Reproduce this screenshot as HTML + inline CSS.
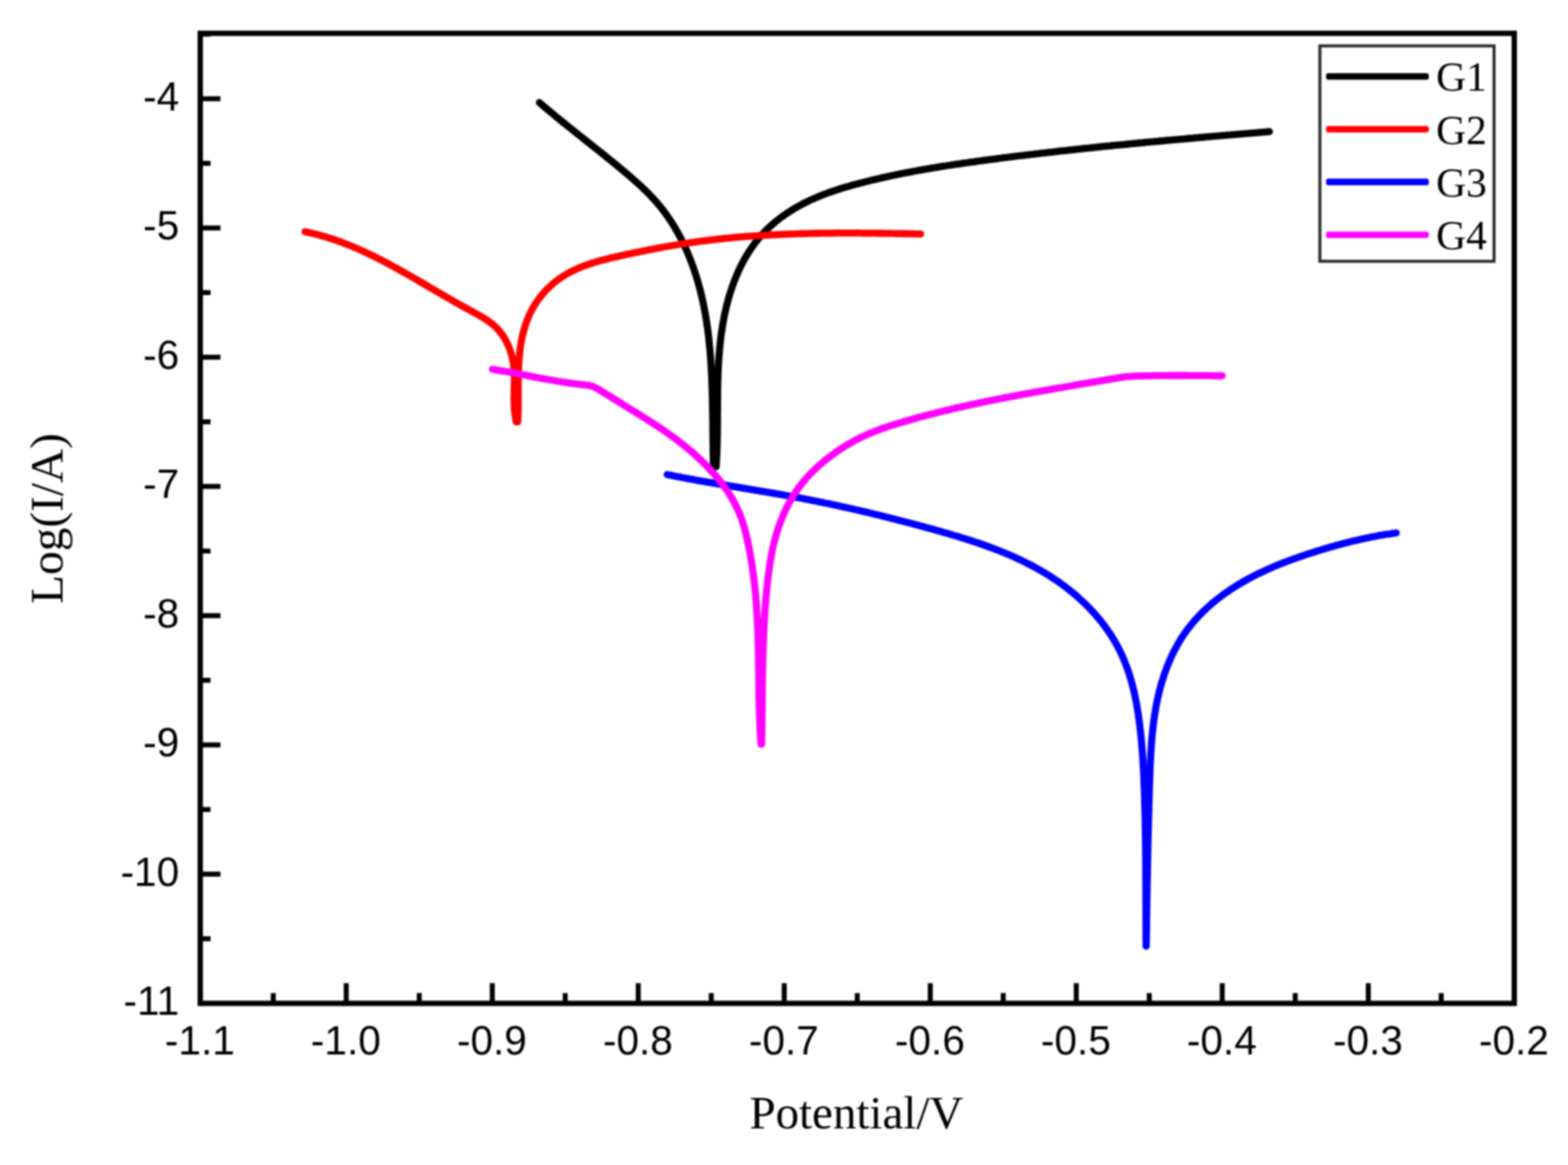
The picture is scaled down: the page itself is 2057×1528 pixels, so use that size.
<!DOCTYPE html>
<html lang="en"><head><meta charset="utf-8"><title>Tafel polarization curves</title>
<style>html,body{margin:0;padding:0;background:#fff;}body{width:2057px;height:1528px;overflow:hidden;}svg{display:block;filter:blur(1px);}.tk{font-family:"Liberation Sans",sans-serif;font-size:53.2px;fill:#000;}.ti{font-family:"Liberation Serif",serif;fill:#000;}</style></head><body>
<svg width="2057" height="1528" viewBox="0 0 2057 1528">
<rect width="2057" height="1528" fill="#fff"/>
<g fill="none" stroke-linejoin="round">
<path d="M707.6 134.5 L709.9 136.5 L712.2 138.4 L714.5 140.4 L716.8 142.3 L719.1 144.3 L721.4 146.2 L723.7 148.1 L726.0 150.0 L728.3 152.0 L730.6 153.9 L733.0 155.8 L735.3 157.7 L737.6 159.6 L740.0 161.5 L742.3 163.4 L744.6 165.2 L747.0 167.1 L749.3 169.0 L751.7 170.9 L754.0 172.8 L756.4 174.6 L758.7 176.5 L761.1 178.4 L763.5 180.2 L765.8 182.1 L768.2 184.0 L770.5 185.9 L772.9 187.7 L775.2 189.6 L777.6 191.5 L779.9 193.3 L782.3 195.2 L784.7 197.1 L787.0 199.0 L789.4 200.8 L791.7 202.7 L794.0 204.6 L796.4 206.5 L798.7 208.4 L801.1 210.3 L803.4 212.2 L805.7 214.1 L808.1 216.0 L810.4 217.9 L812.7 219.8 L815.0 221.7 L817.3 223.7 L819.6 225.6 L821.9 227.5 L824.2 229.5 L826.5 231.4 L828.8 233.4 L831.0 235.4 L833.3 237.4 L835.5 239.4 L837.8 241.4 L840.0 243.5 L842.2 245.5 L844.4 247.6 L846.5 249.7 L848.7 251.8 L850.8 253.9 L852.9 256.1 L855.0 258.3 L857.0 260.5 L859.0 262.7 L861.0 264.9 L863.0 267.2 L864.9 269.5 L866.8 271.9 L868.7 274.2 L870.5 276.6 L872.3 279.0 L874.1 281.4 L875.8 283.9 L877.5 286.4 L879.2 288.9 L880.9 291.4 L882.5 293.9 L884.1 296.5 L885.6 299.0 L887.1 301.6 L888.6 304.3 L890.1 306.9 L891.5 309.5 L892.9 312.2 L894.3 314.9 L895.6 317.6 L896.9 320.3 L898.2 323.0 L899.5 325.7 L900.7 328.5 L901.9 331.2 L903.1 334.0 L904.2 336.8 L905.4 339.6 L906.4 342.4 L907.5 345.2 L908.5 348.0 L909.6 350.8 L910.5 353.7 L911.5 356.5 L912.4 359.4 L913.4 362.3 L914.2 365.1 L915.1 368.0 L915.9 370.9 L916.7 373.8 L917.5 376.7 L918.3 379.6 L919.0 382.5 L919.8 385.4 L920.5 388.4 L921.1 391.3 L921.8 394.2 L922.4 397.2 L923.0 400.1 L923.6 403.1 L924.2 406.0 L924.7 409.0 L925.3 411.9 L925.8 414.9 L926.3 417.9 L926.7 420.8 L927.2 423.8 L927.6 426.8 L928.1 429.8 L928.5 432.8 L928.9 435.7 L929.2 438.7 L929.6 441.7 L929.9 444.7 L930.2 447.7 L930.5 450.7 L930.8 453.7 L931.1 456.7 L931.4 459.7 L931.6 462.7 L931.9 465.7 L932.1 468.7 L932.3 471.7 L932.5 474.7 L932.7 477.7 L932.9 480.7 L933.1 483.7 L933.2 486.7 L933.4 489.7 L933.5 492.7 L933.7 495.7 L933.8 498.7 L933.9 501.7 L934.0 504.7 L934.1 507.7 L934.2 510.7 L934.3 513.7 L934.4 516.7 L934.5 519.8 L934.6 522.8 L934.6 525.8 L934.7 528.8 L934.7 531.8 L934.8 534.8 L934.8 537.8 L934.9 540.8 L934.9 543.8 L935.0 546.8 L935.0 549.8 L935.1 552.8 L935.1 555.8 L935.1 558.9 L935.2 561.9 L935.2 564.9 L935.2 567.9 L935.3 570.9 L935.3 573.9 L935.3 576.9 L935.4 579.9 L935.4 582.9 L935.5 585.9 L935.5 588.9 L935.6 591.9 L935.6 595.0 L935.7 598.0 L935.7 601.0 L935.8 604.0 L935.9 607.0 L936.0 610.0 L936.0 612.0 L939.5 612.0 L939.7 609.0 L939.8 606.0 L940.0 603.0 L940.2 600.0 L940.3 597.0 L940.4 594.0 L940.5 591.0 L940.6 588.0 L940.7 585.0 L940.8 582.0 L940.9 579.0 L940.9 576.0 L941.0 573.0 L941.0 570.0 L941.1 567.0 L941.1 564.0 L941.1 561.0 L941.2 558.0 L941.2 555.0 L941.2 551.9 L941.2 548.9 L941.2 545.9 L941.2 542.9 L941.3 539.9 L941.3 536.9 L941.3 533.9 L941.3 530.9 L941.3 527.9 L941.3 524.9 L941.4 521.9 L941.4 518.9 L941.4 515.9 L941.5 512.9 L941.5 509.9 L941.6 506.9 L941.6 503.9 L941.7 500.9 L941.8 497.9 L941.9 494.9 L942.0 491.9 L942.1 488.9 L942.2 485.9 L942.3 482.9 L942.5 479.9 L942.6 476.9 L942.8 473.9 L943.0 470.9 L943.2 467.9 L943.4 464.9 L943.7 461.9 L943.9 458.9 L944.2 455.9 L944.5 452.9 L944.8 449.9 L945.1 446.9 L945.5 443.9 L945.8 441.0 L946.2 438.0 L946.7 435.0 L947.1 432.0 L947.6 429.1 L948.0 426.1 L948.6 423.1 L949.1 420.2 L949.6 417.2 L950.2 414.3 L950.8 411.4 L951.5 408.4 L952.2 405.5 L952.8 402.6 L953.6 399.7 L954.3 396.7 L955.1 393.8 L955.9 390.9 L956.7 388.1 L957.6 385.2 L958.5 382.3 L959.5 379.5 L960.4 376.6 L961.4 373.8 L962.4 371.0 L963.5 368.2 L964.6 365.4 L965.7 362.6 L966.9 359.8 L968.1 357.1 L969.3 354.3 L970.6 351.6 L971.9 348.9 L973.3 346.2 L974.7 343.6 L976.1 340.9 L977.6 338.3 L979.1 335.7 L980.7 333.1 L982.2 330.6 L983.9 328.1 L985.6 325.6 L987.3 323.1 L989.0 320.7 L990.8 318.3 L992.7 315.9 L994.6 313.6 L996.5 311.3 L998.5 309.0 L1000.5 306.8 L1002.5 304.6 L1004.6 302.5 L1006.8 300.3 L1009.0 298.3 L1011.2 296.2 L1013.4 294.2 L1015.7 292.3 L1018.0 290.4 L1020.3 288.5 L1022.7 286.6 L1025.1 284.8 L1027.5 283.1 L1030.0 281.3 L1032.5 279.7 L1035.0 278.0 L1037.5 276.4 L1040.1 274.8 L1042.6 273.3 L1045.2 271.7 L1047.9 270.3 L1050.5 268.8 L1053.1 267.4 L1055.8 266.0 L1058.5 264.7 L1061.2 263.4 L1063.9 262.1 L1066.7 260.9 L1069.4 259.7 L1072.2 258.5 L1074.9 257.4 L1077.7 256.2 L1080.5 255.1 L1083.3 254.1 L1086.2 253.0 L1089.0 252.0 L1091.8 251.0 L1094.7 250.1 L1097.5 249.1 L1100.4 248.2 L1103.2 247.3 L1106.1 246.4 L1109.0 245.5 L1111.9 244.7 L1114.8 243.9 L1117.6 243.0 L1120.5 242.2 L1123.4 241.5 L1126.3 240.7 L1129.3 239.9 L1132.2 239.2 L1135.1 238.4 L1138.0 237.7 L1140.9 237.0 L1143.8 236.3 L1146.8 235.6 L1149.7 234.9 L1152.6 234.2 L1155.5 233.6 L1158.5 232.9 L1161.4 232.2 L1164.3 231.6 L1167.3 231.0 L1170.2 230.3 L1173.1 229.7 L1176.1 229.1 L1179.0 228.5 L1182.0 227.9 L1184.9 227.3 L1187.9 226.7 L1190.8 226.2 L1193.8 225.6 L1196.7 225.1 L1199.7 224.5 L1202.6 224.0 L1205.6 223.4 L1208.5 222.9 L1211.5 222.4 L1214.5 221.9 L1217.4 221.3 L1220.4 220.8 L1223.3 220.3 L1226.3 219.9 L1229.3 219.4 L1232.2 218.9 L1235.2 218.4 L1238.2 217.9 L1241.1 217.5 L1244.1 217.0 L1247.1 216.6 L1250.1 216.1 L1253.0 215.7 L1256.0 215.2 L1259.0 214.8 L1261.9 214.4 L1264.9 213.9 L1267.9 213.5 L1270.9 213.1 L1273.8 212.7 L1276.8 212.3 L1279.8 211.8 L1282.8 211.4 L1285.7 211.0 L1288.7 210.6 L1291.7 210.2 L1294.7 209.8 L1297.7 209.4 L1300.6 209.0 L1303.6 208.7 L1306.6 208.3 L1309.6 207.9 L1312.5 207.5 L1315.5 207.1 L1318.5 206.7 L1321.5 206.4 L1324.5 206.0 L1327.5 205.6 L1330.4 205.2 L1333.4 204.9 L1336.4 204.5 L1339.4 204.1 L1342.4 203.8 L1345.3 203.4 L1348.3 203.1 L1351.3 202.7 L1354.3 202.4 L1357.3 202.0 L1360.3 201.7 L1363.2 201.3 L1366.2 201.0 L1369.2 200.6 L1372.2 200.3 L1375.2 199.9 L1378.2 199.6 L1381.2 199.3 L1384.1 198.9 L1387.1 198.6 L1390.1 198.2 L1393.1 197.9 L1396.1 197.6 L1399.1 197.3 L1402.1 196.9 L1405.0 196.6 L1408.0 196.3 L1411.0 196.0 L1414.0 195.6 L1417.0 195.3 L1420.0 195.0 L1423.0 194.7 L1426.0 194.4 L1428.9 194.1 L1431.9 193.8 L1434.9 193.5 L1437.9 193.1 L1440.9 192.8 L1443.9 192.5 L1446.9 192.2 L1449.9 191.9 L1452.8 191.6 L1455.8 191.3 L1458.8 191.0 L1461.8 190.7 L1464.8 190.4 L1467.8 190.1 L1470.8 189.8 L1473.8 189.6 L1476.8 189.3 L1479.8 189.0 L1482.7 188.7 L1485.7 188.4 L1488.7 188.1 L1491.7 187.8 L1494.7 187.5 L1497.7 187.3 L1500.7 187.0 L1503.7 186.7 L1506.7 186.4 L1509.7 186.1 L1512.7 185.9 L1515.6 185.6 L1518.6 185.3 L1521.6 185.0 L1524.6 184.8 L1527.6 184.5 L1530.6 184.2 L1533.6 183.9 L1536.6 183.7 L1539.6 183.4 L1542.6 183.1 L1545.6 182.9 L1548.6 182.6 L1551.6 182.3 L1554.5 182.1 L1557.5 181.8 L1560.5 181.5 L1563.5 181.3 L1566.5 181.0 L1569.5 180.7 L1572.5 180.5 L1575.5 180.2 L1578.5 180.0 L1581.5 179.7 L1584.5 179.4 L1587.5 179.2 L1590.5 178.9 L1593.5 178.7 L1596.4 178.4 L1599.4 178.2 L1602.4 177.9 L1605.4 177.6 L1608.4 177.4 L1611.4 177.1 L1614.4 176.9 L1617.4 176.6 L1620.4 176.4 L1623.4 176.1 L1626.4 175.9 L1629.4 175.6 L1632.4 175.4 L1635.4 175.1 L1638.4 174.9 L1641.3 174.6 L1644.3 174.4 L1647.3 174.1 L1650.3 173.9 L1653.3 173.6 L1656.3 173.4 L1659.3 173.1 L1662.3 172.9 L1665.3 172.6" stroke="#000" stroke-width="9.3" stroke-linecap="round"/>
<path d="M400.2 303.9 L403.1 304.5 L406.1 305.2 L409.0 305.9 L411.9 306.6 L414.9 307.3 L417.8 308.1 L420.7 308.9 L423.6 309.7 L426.5 310.5 L429.3 311.4 L432.2 312.3 L435.1 313.2 L437.9 314.2 L440.8 315.1 L443.6 316.1 L446.4 317.2 L449.3 318.2 L452.1 319.3 L454.9 320.4 L457.7 321.5 L460.5 322.6 L463.2 323.8 L466.0 324.9 L468.8 326.1 L471.5 327.3 L474.3 328.6 L477.0 329.8 L479.7 331.1 L482.5 332.4 L485.2 333.7 L487.9 335.0 L490.6 336.3 L493.3 337.6 L496.0 339.0 L498.7 340.4 L501.3 341.7 L504.0 343.1 L506.7 344.5 L509.3 345.9 L512.0 347.4 L514.6 348.8 L517.3 350.2 L519.9 351.7 L522.5 353.1 L525.2 354.6 L527.8 356.1 L530.4 357.6 L533.0 359.0 L535.6 360.5 L538.3 362.0 L540.9 363.5 L543.5 365.0 L546.1 366.5 L548.7 368.1 L551.3 369.6 L553.9 371.1 L556.5 372.6 L559.1 374.1 L561.7 375.6 L564.3 377.2 L566.9 378.7 L569.5 380.2 L572.1 381.7 L574.7 383.2 L577.3 384.7 L579.9 386.3 L582.5 387.8 L585.1 389.3 L587.7 390.8 L590.3 392.3 L592.9 393.8 L595.5 395.2 L598.1 396.7 L600.8 398.2 L603.4 399.7 L606.0 401.2 L608.6 402.6 L611.3 404.1 L613.9 405.5 L616.6 407.0 L619.2 408.4 L621.8 409.9 L624.5 411.3 L627.1 412.8 L629.7 414.3 L632.3 415.8 L634.9 417.4 L637.4 419.0 L639.9 420.6 L642.4 422.4 L644.8 424.2 L647.1 426.1 L649.3 428.1 L651.5 430.2 L653.5 432.4 L655.5 434.6 L657.4 437.0 L659.1 439.4 L660.8 441.9 L662.4 444.5 L663.8 447.1 L665.2 449.8 L666.5 452.5 L667.7 455.3 L668.7 458.1 L669.7 460.9 L670.6 463.8 L671.4 466.7 L672.1 469.6 L672.7 472.5 L673.3 475.5 L673.7 478.5 L674.1 481.5 L674.3 484.4 L674.6 487.4 L674.7 490.5 L674.8 493.5 L674.8 496.5 L674.8 499.5 L674.8 502.5 L674.7 505.5 L674.7 508.5 L674.6 511.5 L674.5 514.5 L674.5 517.5 L674.4 520.5 L674.4 523.5 L674.4 526.6 L674.5 529.6 L674.6 532.6 L674.8 535.6 L675.0 538.6 L675.3 541.6 L675.7 544.5 L676.2 547.5 L676.8 550.5 L677.4 553.4 L679.2 553.4 L679.3 550.4 L679.5 547.4 L679.6 544.4 L679.7 541.4 L679.7 538.4 L679.8 535.4 L679.8 532.3 L679.8 529.3 L679.9 526.3 L679.9 523.3 L679.9 520.3 L679.9 517.3 L679.9 514.3 L679.8 511.3 L679.8 508.3 L679.9 505.3 L679.9 502.3 L679.9 499.3 L679.9 496.2 L680.0 493.2 L680.0 490.2 L680.1 487.2 L680.2 484.2 L680.3 481.2 L680.5 478.2 L680.7 475.2 L680.9 472.2 L681.1 469.2 L681.4 466.2 L681.7 463.2 L682.0 460.2 L682.4 457.2 L682.8 454.3 L683.3 451.3 L683.8 448.3 L684.3 445.4 L684.9 442.4 L685.6 439.5 L686.3 436.6 L687.1 433.7 L687.9 430.8 L688.8 427.9 L689.7 425.0 L690.7 422.2 L691.8 419.4 L692.9 416.6 L694.1 413.9 L695.4 411.1 L696.7 408.4 L698.1 405.8 L699.6 403.1 L701.1 400.6 L702.7 398.0 L704.4 395.5 L706.1 393.1 L707.9 390.6 L709.8 388.3 L711.7 385.9 L713.6 383.7 L715.7 381.4 L717.7 379.3 L719.9 377.2 L722.1 375.1 L724.3 373.1 L726.6 371.1 L728.9 369.2 L731.3 367.4 L733.7 365.6 L736.2 363.9 L738.7 362.3 L741.3 360.7 L743.9 359.2 L746.5 357.7 L749.1 356.3 L751.8 355.0 L754.5 353.7 L757.3 352.4 L760.0 351.2 L762.8 350.1 L765.6 349.0 L768.4 348.0 L771.3 346.9 L774.1 346.0 L777.0 345.0 L779.9 344.1 L782.7 343.3 L785.6 342.4 L788.5 341.6 L791.4 340.9 L794.3 340.1 L797.3 339.4 L800.2 338.6 L803.1 337.9 L806.0 337.3 L809.0 336.6 L811.9 335.9 L814.8 335.3 L817.8 334.6 L820.7 334.0 L823.7 333.3 L826.6 332.7 L829.5 332.1 L832.5 331.5 L835.4 330.9 L838.4 330.3 L841.3 329.7 L844.3 329.1 L847.2 328.5 L850.2 327.9 L853.1 327.3 L856.1 326.8 L859.0 326.2 L862.0 325.6 L865.0 325.1 L867.9 324.5 L870.9 324.0 L873.8 323.5 L876.8 323.0 L879.8 322.5 L882.7 322.0 L885.7 321.5 L888.7 321.0 L891.6 320.5 L894.6 320.0 L897.6 319.6 L900.6 319.1 L903.5 318.7 L906.5 318.2 L909.5 317.8 L912.5 317.4 L915.4 316.9 L918.4 316.5 L921.4 316.1 L924.4 315.8 L927.4 315.4 L930.4 315.0 L933.4 314.7 L936.3 314.3 L939.3 314.0 L942.3 313.6 L945.3 313.3 L948.3 313.0 L951.3 312.7 L954.3 312.4 L957.3 312.1 L960.3 311.8 L963.3 311.5 L966.3 311.2 L969.3 311.0 L972.3 310.7 L975.3 310.5 L978.3 310.2 L981.3 310.0 L984.3 309.8 L987.3 309.6 L990.3 309.4 L993.3 309.2 L996.3 309.0 L999.3 308.8 L1002.3 308.6 L1005.3 308.4 L1008.3 308.3 L1011.3 308.1 L1014.3 307.9 L1017.3 307.8 L1020.3 307.6 L1023.3 307.5 L1026.3 307.4 L1029.3 307.2 L1032.3 307.1 L1035.3 307.0 L1038.3 306.9 L1041.3 306.8 L1044.4 306.7 L1047.4 306.6 L1050.4 306.5 L1053.4 306.4 L1056.4 306.3 L1059.4 306.3 L1062.4 306.2 L1065.4 306.1 L1068.4 306.1 L1071.4 306.0 L1074.4 306.0 L1077.4 305.9 L1080.4 305.9 L1083.5 305.9 L1086.5 305.8 L1089.5 305.8 L1092.5 305.8 L1095.5 305.7 L1098.5 305.7 L1101.5 305.7 L1104.5 305.7 L1107.5 305.7 L1110.5 305.7 L1113.5 305.7 L1116.5 305.7 L1119.6 305.7 L1122.6 305.7 L1125.6 305.7 L1128.6 305.7 L1131.6 305.8 L1134.6 305.8 L1137.6 305.8 L1140.6 305.8 L1143.6 305.9 L1146.6 305.9 L1149.6 305.9 L1152.6 306.0 L1155.7 306.0 L1158.7 306.0 L1161.7 306.1 L1164.7 306.1 L1167.7 306.2 L1170.7 306.2 L1173.7 306.3 L1176.7 306.3 L1179.7 306.4 L1182.7 306.4 L1185.7 306.5 L1188.7 306.5 L1191.8 306.6 L1194.8 306.6 L1197.8 306.7 L1200.8 306.8 L1203.8 306.8 L1206.8 306.9 L1207.8 306.9" stroke="#f00" stroke-width="9.3" stroke-linecap="round"/>
<path d="M875.2 622.4 L878.1 623.0 L881.1 623.6 L884.0 624.2 L887.0 624.8 L889.9 625.3 L892.9 625.9 L895.8 626.5 L898.8 627.0 L901.7 627.6 L904.7 628.1 L907.6 628.7 L910.6 629.2 L913.6 629.8 L916.5 630.3 L919.5 630.8 L922.4 631.3 L925.4 631.9 L928.4 632.4 L931.3 632.9 L934.3 633.4 L937.2 633.9 L940.2 634.4 L943.2 634.9 L946.1 635.4 L949.1 635.9 L952.0 636.4 L955.0 636.9 L958.0 637.4 L960.9 637.9 L963.9 638.4 L966.9 638.9 L969.8 639.4 L972.8 639.9 L975.8 640.4 L978.7 640.9 L981.7 641.4 L984.6 641.9 L987.6 642.4 L990.6 642.9 L993.5 643.4 L996.5 643.8 L999.5 644.3 L1002.4 644.8 L1005.4 645.4 L1008.4 645.9 L1011.3 646.4 L1014.3 646.9 L1017.2 647.4 L1020.2 647.9 L1023.2 648.4 L1026.1 648.9 L1029.1 649.5 L1032.0 650.0 L1035.0 650.5 L1037.9 651.1 L1040.9 651.6 L1043.9 652.1 L1046.8 652.7 L1049.8 653.2 L1052.7 653.8 L1055.7 654.4 L1058.6 654.9 L1061.6 655.5 L1064.5 656.1 L1067.5 656.7 L1070.4 657.3 L1073.3 657.9 L1076.3 658.5 L1079.2 659.1 L1082.2 659.7 L1085.1 660.3 L1088.1 660.9 L1091.0 661.5 L1093.9 662.1 L1096.9 662.8 L1099.8 663.4 L1102.7 664.1 L1105.7 664.7 L1108.6 665.4 L1111.5 666.0 L1114.5 666.7 L1117.4 667.3 L1120.3 668.0 L1123.3 668.7 L1126.2 669.3 L1129.1 670.0 L1132.0 670.7 L1135.0 671.4 L1137.9 672.1 L1140.8 672.8 L1143.7 673.5 L1146.7 674.2 L1149.6 674.9 L1152.5 675.6 L1155.4 676.3 L1158.3 677.1 L1161.3 677.8 L1164.2 678.5 L1167.1 679.2 L1170.0 680.0 L1172.9 680.7 L1175.8 681.5 L1178.7 682.2 L1181.6 683.0 L1184.5 683.7 L1187.5 684.5 L1190.4 685.2 L1193.3 686.0 L1196.2 686.8 L1199.1 687.5 L1202.0 688.3 L1204.9 689.1 L1207.8 689.9 L1210.7 690.6 L1213.6 691.4 L1216.5 692.2 L1219.4 693.0 L1222.3 693.8 L1225.2 694.6 L1228.1 695.4 L1231.0 696.2 L1233.9 697.0 L1236.7 697.9 L1239.6 698.7 L1242.5 699.5 L1245.4 700.4 L1248.3 701.2 L1251.2 702.1 L1254.0 702.9 L1256.9 703.8 L1259.8 704.7 L1262.7 705.6 L1265.5 706.5 L1268.4 707.4 L1271.3 708.3 L1274.1 709.2 L1277.0 710.1 L1279.8 711.1 L1282.7 712.0 L1285.5 713.0 L1288.4 714.0 L1291.2 715.0 L1294.0 716.0 L1296.8 717.0 L1299.7 718.1 L1302.5 719.1 L1305.3 720.2 L1308.1 721.3 L1310.9 722.4 L1313.7 723.5 L1316.5 724.6 L1319.2 725.8 L1322.0 726.9 L1324.8 728.1 L1327.5 729.3 L1330.3 730.5 L1333.0 731.8 L1335.7 733.0 L1338.4 734.3 L1341.2 735.6 L1343.9 736.9 L1346.5 738.3 L1349.2 739.6 L1351.9 741.0 L1354.6 742.4 L1357.2 743.8 L1359.8 745.3 L1362.5 746.7 L1365.1 748.2 L1367.7 749.7 L1370.2 751.3 L1372.8 752.8 L1375.4 754.4 L1377.9 756.0 L1380.4 757.6 L1382.9 759.3 L1385.4 761.0 L1387.9 762.7 L1390.4 764.4 L1392.8 766.2 L1395.2 767.9 L1397.6 769.7 L1400.0 771.6 L1402.4 773.4 L1404.7 775.3 L1407.0 777.2 L1409.3 779.1 L1411.6 781.1 L1413.9 783.1 L1416.1 785.1 L1418.3 787.1 L1420.5 789.1 L1422.7 791.2 L1424.9 793.3 L1427.0 795.4 L1429.1 797.6 L1431.2 799.8 L1433.2 802.0 L1435.2 804.2 L1437.2 806.4 L1439.2 808.7 L1441.1 811.0 L1443.0 813.3 L1444.9 815.7 L1446.8 818.0 L1448.6 820.4 L1450.4 822.8 L1452.1 825.3 L1453.9 827.7 L1455.5 830.2 L1457.2 832.7 L1458.8 835.3 L1460.4 837.8 L1461.9 840.4 L1463.4 843.0 L1464.9 845.6 L1466.3 848.2 L1467.7 850.9 L1469.1 853.6 L1470.4 856.3 L1471.7 859.0 L1472.9 861.8 L1474.1 864.5 L1475.2 867.3 L1476.3 870.1 L1477.4 872.9 L1478.5 875.7 L1479.5 878.5 L1480.4 881.4 L1481.4 884.2 L1482.3 887.1 L1483.1 890.0 L1484.0 892.9 L1484.8 895.8 L1485.6 898.7 L1486.3 901.6 L1487.0 904.5 L1487.7 907.4 L1488.4 910.3 L1489.0 913.3 L1489.6 916.2 L1490.2 919.2 L1490.8 922.1 L1491.3 925.1 L1491.8 928.0 L1492.3 931.0 L1492.8 934.0 L1493.3 936.9 L1493.7 939.9 L1494.1 942.9 L1494.5 945.8 L1494.9 948.8 L1495.3 951.8 L1495.6 954.8 L1496.0 957.8 L1496.3 960.8 L1496.6 963.8 L1496.9 966.7 L1497.2 969.7 L1497.5 972.7 L1497.7 975.7 L1498.0 978.7 L1498.2 981.7 L1498.4 984.7 L1498.7 987.7 L1498.9 990.7 L1499.1 993.7 L1499.3 996.7 L1499.5 999.7 L1499.6 1002.7 L1499.8 1005.7 L1500.0 1008.7 L1500.1 1011.7 L1500.3 1014.7 L1500.4 1017.7 L1500.5 1020.7 L1500.7 1023.7 L1500.8 1026.7 L1500.9 1029.7 L1501.0 1032.7 L1501.1 1035.7 L1501.3 1038.7 L1501.4 1041.7 L1501.5 1044.7 L1501.6 1047.7 L1501.6 1050.7 L1501.7 1053.7 L1501.8 1056.7 L1501.9 1059.7 L1502.0 1062.7 L1502.1 1065.7 L1502.1 1068.7 L1502.2 1071.7 L1502.3 1074.8 L1502.3 1077.8 L1502.4 1080.8 L1502.4 1083.8 L1502.5 1086.8 L1502.6 1089.8 L1502.6 1092.8 L1502.6 1095.8 L1502.7 1098.8 L1502.7 1101.8 L1502.8 1104.8 L1502.8 1107.8 L1502.8 1110.8 L1502.9 1113.8 L1502.9 1116.8 L1502.9 1119.8 L1503.0 1122.8 L1503.0 1125.8 L1503.0 1128.8 L1503.0 1131.8 L1503.1 1134.8 L1503.1 1137.8 L1503.1 1140.8 L1503.1 1143.9 L1503.1 1146.9 L1503.1 1149.9 L1503.1 1152.9 L1503.2 1155.9 L1503.2 1158.9 L1503.2 1161.9 L1503.2 1164.9 L1503.2 1167.9 L1503.2 1170.9 L1503.2 1173.9 L1503.2 1176.9 L1503.2 1179.9 L1503.2 1182.9 L1503.3 1185.9 L1503.3 1188.9 L1503.3 1191.9 L1503.3 1194.9 L1503.3 1197.9 L1503.3 1200.9 L1503.3 1203.9 L1503.3 1206.9 L1503.3 1210.0 L1503.3 1213.0 L1503.4 1216.0 L1503.4 1219.0 L1503.4 1222.0 L1503.4 1225.0 L1503.4 1228.0 L1503.4 1231.0 L1503.5 1234.0 L1503.5 1237.0 L1503.5 1240.0 L1503.5 1241.0 L1503.7 1241.0 L1503.7 1238.0 L1503.8 1235.0 L1503.8 1232.0 L1503.9 1229.0 L1503.9 1226.0 L1504.0 1223.0 L1504.0 1220.0 L1504.1 1216.9 L1504.1 1213.9 L1504.1 1210.9 L1504.2 1207.9 L1504.2 1204.9 L1504.3 1201.9 L1504.3 1198.9 L1504.4 1195.9 L1504.4 1192.9 L1504.5 1189.9 L1504.5 1186.9 L1504.6 1183.9 L1504.6 1180.9 L1504.7 1177.9 L1504.7 1174.8 L1504.8 1171.8 L1504.8 1168.8 L1504.9 1165.8 L1504.9 1162.8 L1505.0 1159.8 L1505.0 1156.8 L1505.1 1153.8 L1505.1 1150.8 L1505.2 1147.8 L1505.3 1144.8 L1505.3 1141.8 L1505.4 1138.8 L1505.4 1135.8 L1505.5 1132.8 L1505.5 1129.7 L1505.6 1126.7 L1505.7 1123.7 L1505.7 1120.7 L1505.8 1117.7 L1505.9 1114.7 L1505.9 1111.7 L1506.0 1108.7 L1506.0 1105.7 L1506.1 1102.7 L1506.2 1099.7 L1506.2 1096.7 L1506.3 1093.7 L1506.4 1090.7 L1506.5 1087.7 L1506.5 1084.7 L1506.6 1081.6 L1506.7 1078.6 L1506.7 1075.6 L1506.8 1072.6 L1506.9 1069.6 L1507.0 1066.6 L1507.1 1063.6 L1507.1 1060.6 L1507.2 1057.6 L1507.3 1054.6 L1507.4 1051.6 L1507.5 1048.6 L1507.6 1045.6 L1507.6 1042.6 L1507.7 1039.6 L1507.8 1036.6 L1507.9 1033.5 L1508.0 1030.5 L1508.1 1027.5 L1508.2 1024.5 L1508.3 1021.5 L1508.4 1018.5 L1508.5 1015.5 L1508.6 1012.5 L1508.7 1009.5 L1508.8 1006.5 L1508.9 1003.5 L1509.1 1000.5 L1509.2 997.5 L1509.4 994.5 L1509.5 991.5 L1509.7 988.5 L1509.9 985.5 L1510.1 982.5 L1510.3 979.5 L1510.5 976.5 L1510.7 973.5 L1510.9 970.5 L1511.2 967.5 L1511.5 964.5 L1511.8 961.5 L1512.1 958.5 L1512.4 955.5 L1512.7 952.5 L1513.1 949.5 L1513.5 946.6 L1513.9 943.6 L1514.3 940.6 L1514.7 937.6 L1515.2 934.7 L1515.7 931.7 L1516.2 928.7 L1516.7 925.8 L1517.3 922.8 L1517.9 919.9 L1518.5 916.9 L1519.2 914.0 L1519.8 911.1 L1520.5 908.1 L1521.3 905.2 L1522.0 902.3 L1522.8 899.4 L1523.6 896.5 L1524.5 893.6 L1525.4 890.8 L1526.3 887.9 L1527.3 885.0 L1528.2 882.2 L1529.3 879.4 L1530.3 876.6 L1531.4 873.8 L1532.5 871.0 L1533.7 868.2 L1534.9 865.4 L1536.1 862.7 L1537.3 859.9 L1538.6 857.2 L1540.0 854.5 L1541.3 851.9 L1542.8 849.2 L1544.2 846.6 L1545.7 844.0 L1547.2 841.4 L1548.8 838.8 L1550.4 836.3 L1552.0 833.8 L1553.7 831.3 L1555.5 828.8 L1557.2 826.4 L1559.0 824.0 L1560.9 821.6 L1562.7 819.2 L1564.7 816.9 L1566.6 814.6 L1568.6 812.4 L1570.6 810.2 L1572.7 808.0 L1574.7 805.8 L1576.9 803.7 L1579.0 801.5 L1581.2 799.5 L1583.4 797.4 L1585.6 795.4 L1587.9 793.4 L1590.1 791.4 L1592.4 789.5 L1594.8 787.6 L1597.1 785.7 L1599.5 783.9 L1601.9 782.1 L1604.3 780.3 L1606.7 778.5 L1609.2 776.8 L1611.7 775.1 L1614.2 773.4 L1616.7 771.7 L1619.2 770.1 L1621.7 768.5 L1624.3 766.9 L1626.9 765.4 L1629.5 763.9 L1632.1 762.4 L1634.7 760.9 L1637.3 759.4 L1640.0 758.0 L1642.6 756.6 L1645.3 755.2 L1648.0 753.9 L1650.7 752.5 L1653.4 751.2 L1656.1 749.9 L1658.8 748.7 L1661.6 747.4 L1664.3 746.2 L1667.1 745.0 L1669.8 743.8 L1672.6 742.6 L1675.4 741.4 L1678.1 740.3 L1680.9 739.2 L1683.7 738.1 L1686.5 737.0 L1689.3 735.9 L1692.2 734.9 L1695.0 733.8 L1697.8 732.8 L1700.6 731.8 L1703.5 730.8 L1706.3 729.8 L1709.2 728.8 L1712.0 727.9 L1714.9 726.9 L1717.7 726.0 L1720.6 725.1 L1723.5 724.2 L1726.3 723.3 L1729.2 722.4 L1732.1 721.5 L1735.0 720.6 L1737.8 719.8 L1740.7 718.9 L1743.6 718.1 L1746.5 717.3 L1749.4 716.4 L1752.3 715.6 L1755.2 714.8 L1758.1 714.1 L1761.0 713.3 L1763.9 712.5 L1766.8 711.8 L1769.7 711.0 L1772.7 710.3 L1775.6 709.6 L1778.5 708.9 L1781.4 708.2 L1784.4 707.5 L1787.3 706.9 L1790.2 706.2 L1793.2 705.6 L1796.1 705.0 L1799.1 704.4 L1802.0 703.8 L1805.0 703.3 L1807.9 702.7 L1810.9 702.2 L1813.9 701.7 L1816.8 701.2 L1819.8 700.7 L1822.8 700.3 L1825.7 699.8 L1828.7 699.4 L1831.7 699.0" stroke="#00f" stroke-width="9.3" stroke-linecap="round"/>
<path d="M646.0 484.3 L649.0 484.8 L651.9 485.3 L654.9 485.8 L657.9 486.3 L660.8 486.8 L663.8 487.3 L666.7 487.8 L669.7 488.4 L672.6 488.9 L675.6 489.5 L678.5 490.0 L681.5 490.6 L684.4 491.2 L687.4 491.8 L690.3 492.3 L693.3 492.9 L696.2 493.5 L699.2 494.1 L702.1 494.6 L705.1 495.2 L708.0 495.8 L711.0 496.3 L713.9 496.9 L716.9 497.4 L719.9 498.0 L722.8 498.5 L725.8 499.0 L728.7 499.5 L731.7 500.0 L734.7 500.5 L737.6 501.0 L740.6 501.4 L743.6 501.9 L746.5 502.3 L749.5 502.7 L752.5 503.1 L755.5 503.4 L758.5 503.8 L761.5 504.1 L764.4 504.5 L767.4 504.8 L770.4 505.2 L773.3 505.7 L776.1 506.4 L778.9 507.4 L781.6 508.7 L784.2 510.1 L786.8 511.6 L789.3 513.2 L791.9 514.8 L794.5 516.3 L797.0 517.9 L799.6 519.5 L802.1 521.1 L804.7 522.7 L807.2 524.2 L809.8 525.8 L812.3 527.4 L814.9 529.0 L817.4 530.6 L820.0 532.2 L822.5 533.8 L825.1 535.4 L827.6 537.0 L830.2 538.5 L832.7 540.1 L835.3 541.7 L837.9 543.3 L840.4 544.9 L843.0 546.5 L845.5 548.1 L848.0 549.7 L850.6 551.3 L853.1 552.9 L855.6 554.5 L858.2 556.2 L860.7 557.8 L863.2 559.5 L865.7 561.1 L868.2 562.8 L870.7 564.5 L873.1 566.2 L875.6 567.9 L878.0 569.7 L880.5 571.4 L882.9 573.2 L885.3 575.0 L887.7 576.8 L890.1 578.6 L892.5 580.4 L894.9 582.3 L897.2 584.1 L899.5 586.0 L901.9 587.9 L904.2 589.9 L906.5 591.8 L908.7 593.8 L911.0 595.8 L913.2 597.8 L915.4 599.8 L917.6 601.9 L919.8 603.9 L922.0 606.0 L924.1 608.1 L926.2 610.3 L928.3 612.4 L930.4 614.6 L932.4 616.8 L934.4 619.0 L936.4 621.3 L938.4 623.5 L940.3 625.8 L942.3 628.1 L944.1 630.5 L946.0 632.8 L947.8 635.2 L949.6 637.6 L951.4 640.1 L953.1 642.5 L954.8 645.0 L956.4 647.5 L958.0 650.1 L959.6 652.6 L961.1 655.2 L962.6 657.9 L964.0 660.5 L965.4 663.2 L966.7 665.9 L968.0 668.6 L969.2 671.3 L970.3 674.1 L971.5 676.9 L972.5 679.7 L973.5 682.5 L974.4 685.4 L975.3 688.3 L976.2 691.1 L977.0 694.0 L977.8 696.9 L978.5 699.8 L979.2 702.8 L979.9 705.7 L980.5 708.6 L981.2 711.6 L981.8 714.5 L982.4 717.4 L983.0 720.4 L983.5 723.3 L984.1 726.3 L984.6 729.3 L985.1 732.2 L985.6 735.2 L986.1 738.1 L986.5 741.1 L987.0 744.1 L987.4 747.1 L987.8 750.0 L988.2 753.0 L988.6 756.0 L989.0 759.0 L989.3 762.0 L989.7 764.9 L990.0 767.9 L990.3 770.9 L990.6 773.9 L990.9 776.9 L991.2 779.9 L991.5 782.9 L991.7 785.9 L992.0 788.9 L992.2 791.9 L992.4 794.9 L992.6 797.9 L992.8 800.9 L993.0 803.9 L993.2 806.9 L993.3 809.9 L993.5 812.9 L993.6 815.9 L993.8 818.9 L993.9 821.9 L994.0 824.9 L994.2 827.9 L994.3 830.9 L994.4 833.9 L994.5 836.9 L994.5 839.9 L994.6 842.9 L994.7 845.9 L994.8 848.9 L994.8 851.9 L994.9 854.9 L994.9 857.9 L995.0 860.9 L995.0 863.9 L995.1 866.9 L995.1 869.9 L995.2 872.9 L995.2 875.9 L995.3 878.9 L995.3 881.9 L995.3 884.9 L995.4 887.9 L995.4 890.9 L995.4 893.9 L995.5 897.0 L995.5 900.0 L995.6 903.0 L995.6 906.0 L995.7 909.0 L995.7 912.0 L995.8 915.0 L995.8 918.0 L995.9 921.0 L996.0 924.0 L996.0 927.0 L996.1 930.0 L996.2 933.0 L996.3 936.0 L996.4 939.0 L996.5 942.0 L996.6 945.0 L996.7 948.0 L996.9 951.0 L997.0 954.0 L997.2 957.0 L997.3 960.0 L997.5 963.0 L997.7 966.0 L997.9 969.0 L998.1 972.0 L998.3 975.0 L998.4 976.0 L999.2 976.0 L999.2 973.0 L999.3 970.0 L999.3 967.0 L999.4 964.0 L999.4 961.0 L999.5 958.0 L999.5 955.0 L999.5 952.0 L999.6 949.0 L999.6 946.0 L999.6 943.0 L999.7 939.9 L999.7 936.9 L999.7 933.9 L999.8 930.9 L999.8 927.9 L999.8 924.9 L999.8 921.9 L999.9 918.9 L999.9 915.9 L999.9 912.9 L1000.0 909.9 L1000.0 906.9 L1000.0 903.9 L1000.1 900.9 L1000.1 897.9 L1000.2 894.9 L1000.2 891.9 L1000.3 888.9 L1000.3 885.9 L1000.4 882.9 L1000.4 879.9 L1000.5 876.9 L1000.5 873.8 L1000.6 870.8 L1000.7 867.8 L1000.7 864.8 L1000.8 861.8 L1000.9 858.8 L1001.0 855.8 L1001.1 852.8 L1001.2 849.8 L1001.3 846.8 L1001.4 843.8 L1001.5 840.8 L1001.6 837.8 L1001.7 834.8 L1001.8 831.8 L1002.0 828.8 L1002.1 825.8 L1002.3 822.8 L1002.4 819.8 L1002.6 816.8 L1002.8 813.8 L1002.9 810.8 L1003.1 807.8 L1003.3 804.8 L1003.5 801.8 L1003.7 798.8 L1003.9 795.8 L1004.2 792.8 L1004.4 789.8 L1004.7 786.8 L1004.9 783.8 L1005.2 780.8 L1005.4 777.8 L1005.7 774.8 L1006.0 771.9 L1006.3 768.9 L1006.6 765.9 L1007.0 762.9 L1007.3 759.9 L1007.6 756.9 L1008.0 753.9 L1008.4 751.0 L1008.8 748.0 L1009.2 745.0 L1009.6 742.0 L1010.1 739.1 L1010.6 736.1 L1011.1 733.1 L1011.6 730.2 L1012.1 727.2 L1012.7 724.3 L1013.3 721.3 L1013.9 718.4 L1014.6 715.5 L1015.3 712.5 L1016.0 709.6 L1016.8 706.7 L1017.6 703.8 L1018.4 700.9 L1019.3 698.1 L1020.2 695.2 L1021.1 692.3 L1022.1 689.5 L1023.1 686.7 L1024.2 683.9 L1025.2 681.1 L1026.4 678.3 L1027.5 675.5 L1028.7 672.8 L1030.0 670.0 L1031.3 667.3 L1032.6 664.6 L1034.0 661.9 L1035.4 659.3 L1036.9 656.7 L1038.4 654.1 L1039.9 651.5 L1041.5 648.9 L1043.1 646.4 L1044.8 643.9 L1046.5 641.4 L1048.3 639.0 L1050.1 636.6 L1051.9 634.2 L1053.8 631.9 L1055.7 629.6 L1057.7 627.3 L1059.7 625.1 L1061.7 622.9 L1063.8 620.7 L1065.9 618.6 L1068.1 616.5 L1070.3 614.4 L1072.5 612.4 L1074.7 610.4 L1077.0 608.4 L1079.2 606.5 L1081.6 604.5 L1083.9 602.7 L1086.3 600.8 L1088.6 599.0 L1091.0 597.2 L1093.5 595.4 L1095.9 593.6 L1098.4 591.9 L1100.8 590.2 L1103.3 588.6 L1105.9 586.9 L1108.4 585.3 L1111.0 583.8 L1113.6 582.2 L1116.2 580.7 L1118.8 579.2 L1121.4 577.8 L1124.1 576.4 L1126.8 575.0 L1129.4 573.7 L1132.2 572.4 L1134.9 571.2 L1137.6 569.9 L1140.4 568.7 L1143.2 567.6 L1145.9 566.5 L1148.7 565.4 L1151.5 564.3 L1154.4 563.2 L1157.2 562.2 L1160.0 561.2 L1162.9 560.2 L1165.7 559.3 L1168.6 558.4 L1171.4 557.4 L1174.3 556.5 L1177.2 555.6 L1180.0 554.8 L1182.9 553.9 L1185.8 553.0 L1188.7 552.2 L1191.6 551.4 L1194.5 550.5 L1197.3 549.7 L1200.2 548.9 L1203.1 548.1 L1206.0 547.3 L1208.9 546.5 L1211.8 545.8 L1214.7 545.0 L1217.6 544.2 L1220.5 543.5 L1223.5 542.7 L1226.4 542.0 L1229.3 541.2 L1232.2 540.5 L1235.1 539.8 L1238.0 539.1 L1241.0 538.4 L1243.9 537.7 L1246.8 537.0 L1249.7 536.3 L1252.6 535.6 L1255.6 534.9 L1258.5 534.2 L1261.4 533.6 L1264.4 532.9 L1267.3 532.3 L1270.2 531.6 L1273.2 531.0 L1276.1 530.3 L1279.0 529.7 L1282.0 529.1 L1284.9 528.4 L1287.9 527.8 L1290.8 527.2 L1293.7 526.6 L1296.7 526.0 L1299.6 525.4 L1302.6 524.8 L1305.5 524.2 L1308.5 523.6 L1311.4 523.1 L1314.4 522.5 L1317.3 521.9 L1320.3 521.3 L1323.2 520.8 L1326.2 520.2 L1329.1 519.6 L1332.1 519.1 L1335.0 518.5 L1338.0 518.0 L1340.9 517.4 L1343.9 516.9 L1346.8 516.4 L1349.8 515.8 L1352.8 515.3 L1355.7 514.7 L1358.7 514.2 L1361.6 513.7 L1364.6 513.2 L1367.6 512.6 L1370.5 512.1 L1373.5 511.6 L1376.4 511.1 L1379.4 510.6 L1382.3 510.0 L1385.3 509.5 L1388.3 509.0 L1391.2 508.5 L1394.2 508.0 L1397.2 507.5 L1400.1 507.0 L1403.1 506.5 L1406.0 506.0 L1409.0 505.4 L1412.0 504.9 L1414.9 504.4 L1417.9 503.9 L1420.8 503.4 L1423.8 502.9 L1426.8 502.4 L1429.7 501.9 L1432.7 501.4 L1435.7 500.9 L1438.6 500.4 L1441.6 499.9 L1444.5 499.4 L1447.5 498.9 L1450.5 498.4 L1453.4 497.8 L1456.4 497.3 L1459.3 496.8 L1462.3 496.3 L1465.3 495.8 L1468.2 495.3 L1471.2 494.8 L1474.2 494.4 L1477.1 494.0 L1480.1 493.8 L1483.1 493.6 L1486.1 493.5 L1489.1 493.4 L1492.1 493.2 L1495.1 493.2 L1498.1 493.1 L1501.1 493.0 L1504.1 492.9 L1507.2 492.8 L1510.2 492.8 L1513.2 492.7 L1516.2 492.7 L1519.2 492.7 L1522.2 492.6 L1525.2 492.6 L1528.2 492.6 L1531.2 492.6 L1534.2 492.5 L1537.2 492.5 L1540.2 492.5 L1543.2 492.5 L1546.2 492.5 L1549.2 492.5 L1552.2 492.5 L1555.2 492.5 L1558.2 492.6 L1561.2 492.6 L1564.2 492.6 L1567.2 492.6 L1570.2 492.6 L1573.3 492.6 L1576.3 492.7 L1579.3 492.7 L1582.3 492.7 L1585.3 492.7 L1588.3 492.7 L1591.3 492.8 L1594.3 492.8 L1597.3 492.8 L1600.3 492.8 L1603.3 492.8" stroke="#f0f" stroke-width="9.3" stroke-linecap="round"/>
</g>
<g stroke="#000" stroke-width="6.5" fill="none">
<path d="M262.7 129.5 h26.5 M262.7 44.8 h13.5 M262.7 299.0 h26.5 M262.7 214.2 h13.5 M262.7 468.5 h26.5 M262.7 383.8 h13.5 M262.7 638.0 h26.5 M262.7 553.2 h13.5 M262.7 807.5 h26.5 M262.7 722.8 h13.5 M262.7 977.0 h26.5 M262.7 892.2 h13.5 M262.7 1146.5 h26.5 M262.7 1061.8 h13.5 M262.7 1231.2 h13.5 M358.5 1316.0 v-13.5 M454.2 1316.0 v-26.5 M550.0 1316.0 v-13.5 M645.8 1316.0 v-26.5 M741.5 1316.0 v-13.5 M837.3 1316.0 v-26.5 M933.1 1316.0 v-13.5 M1028.8 1316.0 v-26.5 M1124.6 1316.0 v-13.5 M1220.4 1316.0 v-26.5 M1316.1 1316.0 v-13.5 M1411.9 1316.0 v-26.5 M1507.7 1316.0 v-13.5 M1603.4 1316.0 v-26.5 M1699.2 1316.0 v-13.5 M1795.0 1316.0 v-26.5 M1890.7 1316.0 v-13.5"/>
</g>
<rect x="262.7" y="43.7" width="1723.8" height="1272.3" fill="none" stroke="#000" stroke-width="7"/>
<g class="tk">
<text x="235.0" y="144.8" text-anchor="end">-4</text>
<text x="235.0" y="314.3" text-anchor="end">-5</text>
<text x="235.0" y="483.8" text-anchor="end">-6</text>
<text x="235.0" y="653.3" text-anchor="end">-7</text>
<text x="235.0" y="822.8" text-anchor="end">-8</text>
<text x="235.0" y="992.3" text-anchor="end">-9</text>
<text x="235.0" y="1161.8" text-anchor="end">-10</text>
<text x="235.0" y="1331.3" text-anchor="end">-11</text>
<text x="262.2" y="1383.0" text-anchor="middle">-1.1</text>
<text x="453.7" y="1383.0" text-anchor="middle">-1.0</text>
<text x="645.3" y="1383.0" text-anchor="middle">-0.9</text>
<text x="836.8" y="1383.0" text-anchor="middle">-0.8</text>
<text x="1028.3" y="1383.0" text-anchor="middle">-0.7</text>
<text x="1219.9" y="1383.0" text-anchor="middle">-0.6</text>
<text x="1411.4" y="1383.0" text-anchor="middle">-0.5</text>
<text x="1602.9" y="1383.0" text-anchor="middle">-0.4</text>
<text x="1794.5" y="1383.0" text-anchor="middle">-0.3</text>
<text x="1986.0" y="1383.0" text-anchor="middle">-0.2</text>
</g>
<text class="ti" x="1123.5" y="1480.3" text-anchor="middle" font-size="61.6">Potential/V</text>
<text class="ti" transform="translate(82.4 680.0) rotate(-90)" text-anchor="middle" font-size="62">Log(I/A)</text>
<rect x="1731.5" y="60.2" width="228.5" height="282.5" fill="#fff" stroke="#2a2a2a" stroke-width="4.0"/>
<g>
<rect x="1739.6" y="95.9" width="134.8" height="8.6" rx="3.0" fill="#000"/>
<rect x="1739.6" y="165.2" width="134.8" height="8.6" rx="3.0" fill="#f00"/>
<rect x="1739.6" y="234.3" width="134.8" height="8.6" rx="3.0" fill="#00f"/>
<rect x="1739.6" y="303.7" width="134.8" height="8.6" rx="3.0" fill="#f0f"/>
</g>
<g class="ti" font-size="54.5">
<text x="1884.0" y="119.2">G1</text>
<text x="1884.0" y="188.5">G2</text>
<text x="1884.0" y="257.6">G3</text>
<text x="1884.0" y="327.0">G4</text>
</g>
</svg></body></html>
